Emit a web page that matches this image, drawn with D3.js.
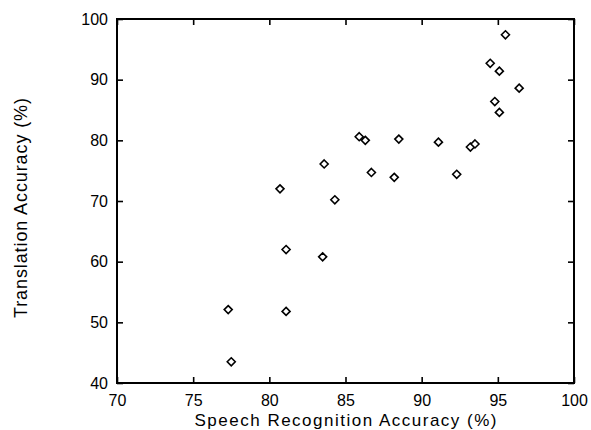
<!DOCTYPE html>
<html><head><meta charset="utf-8">
<script src="https://cdn.jsdelivr.net/npm/d3@7"></script>
<style>
html,body{margin:0;padding:0;background:#fff;}
text{font-family:"Liberation Sans",Arial,Helvetica,sans-serif;fill:#000;}
</style></head>
<body>
<svg id="chart" width="591" height="430"></svg>
<script>
// Speech recognition accuracy (%) vs translation accuracy (%)
const speechAcc = [95.5, 94.5, 95.1, 96.4, 94.8, 95.1, 85.9, 86.3, 88.5, 91.1, 93.2, 93.5,
                   83.6, 86.7, 88.2, 92.3, 84.3, 80.7, 81.1, 77.3, 81.1, 77.5, 83.5];
const transAcc  = [97.4, 92.7, 91.4, 88.6, 86.4, 84.6, 80.6, 80.0, 80.2, 79.7, 78.9, 79.4,
                   76.1, 74.7, 73.9, 74.4, 70.2, 72.0, 62.0, 52.1, 51.8, 43.5, 60.8];
const xTicks = [70, 75, 80, 85, 90, 95, 100];
const yTicks = [40, 50, 60, 70, 80, 90, 100];
const xTitle = "Speech Recognition Accuracy (%)";
const yTitle = "Translation Accuracy (%)";

const svg = d3.select("#chart");
const L = 117, R = 574, T = 19, B = 383;
const x = d3.scaleLinear().domain([70, 100]).range([L, R]);
const y = d3.scaleLinear().domain([40, 100]).range([B, T]);
const tk = 6;

function styleAxis(g) {
  g.selectAll(".domain").remove();
  g.selectAll(".tick line").attr("stroke", "#000").attr("stroke-width", 1.6);
}

// bottom axis
svg.append("g").attr("transform", `translate(0,${B})`)
  .call(d3.axisBottom(x).tickValues(xTicks).tickSize(-tk).tickPadding(20).tickFormat(d3.format("d")))
  .call(styleAxis)
  .call(g => g.selectAll(".tick text").attr("font-size", 16).attr("font-family", "Liberation Sans, Arial, sans-serif").attr("fill", "#000").attr("dy", "0.2em"));
// top axis
svg.append("g").attr("transform", `translate(0,${T})`)
  .call(d3.axisTop(x).tickValues(xTicks).tickSize(-tk).tickFormat(""))
  .call(styleAxis);
// left axis
svg.append("g").attr("transform", `translate(${L},0)`)
  .call(d3.axisLeft(y).tickValues(yTicks).tickSize(-tk).tickPadding(9).tickFormat(d3.format("d")))
  .call(styleAxis)
  .call(g => g.selectAll(".tick text").attr("font-size", 16).attr("font-family", "Liberation Sans, Arial, sans-serif").attr("fill", "#000"));
// right axis
svg.append("g").attr("transform", `translate(${R},0)`)
  .call(d3.axisRight(y).tickValues(yTicks).tickSize(-tk).tickFormat(""))
  .call(styleAxis);

// frame
svg.append("rect").attr("x", L).attr("y", T).attr("width", R - L).attr("height", B - T)
  .attr("fill", "none").attr("stroke", "#000").attr("stroke-width", 2);

// points
const data = speechAcc.map((s, i) => ({s, t: transAcc[i]}));
const diamond = "M0,-4L4,0L0,4L-4,0Z";
svg.append("g").selectAll("path").data(data).join("path")
  .attr("d", diamond)
  .attr("transform", d => `translate(${x(d.s)},${y(d.t)})`)
  .attr("fill", "#fff").attr("stroke", "#000").attr("stroke-width", 1.6);

// titles
svg.append("text").attr("x", (L + R) / 2).attr("y", 426).attr("text-anchor", "middle")
  .attr("font-size", 17).attr("textLength", 302).attr("lengthAdjust", "spacing").text(xTitle);
svg.append("text").attr("transform", `translate(27,208) rotate(-90)`).attr("text-anchor", "middle")
  .attr("font-size", 18).attr("textLength", 220).attr("lengthAdjust", "spacing").text(yTitle);
</script>
</body></html>
